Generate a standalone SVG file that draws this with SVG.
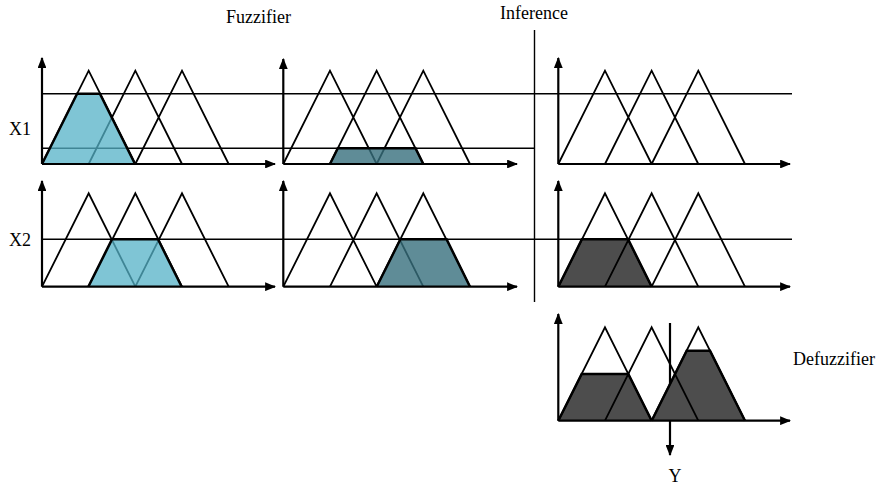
<svg xmlns="http://www.w3.org/2000/svg" width="896" height="486" viewBox="0 0 896 486">
<style>
.tri{fill:none;stroke:#000;stroke-width:1.8;stroke-linejoin:miter}
.axis{stroke:#000;stroke-width:2.2;fill:none}
.lvl{stroke:#000;stroke-width:1.4;fill:none}
.edge{fill:none;stroke:#000;stroke-width:2.5;stroke-linejoin:miter}
.lb{fill:#54b2c7;fill-opacity:0.75}
.tl{fill:#376f7d;fill-opacity:0.8}
.dg{fill:#4d4d4d}
text{font-family:"Liberation Serif","Times New Roman",serif;font-size:18px;fill:#000}
</style>
<defs>
<marker id="ah" viewBox="0 0 10 8" refX="9" refY="4" markerWidth="5" markerHeight="4" orient="auto" markerUnits="strokeWidth">
<path d="M0,0 L10,4 L0,8 Z" fill="#000"/>
</marker>
<path id="tris" class="tri" d="M0,0 L46.67,-93.33 L93.33,0 M46.67,0 L93.33,-93.33 L140,0 M93.33,0 L140,-93.33 L186.67,0"/>
</defs>

<g id="labels">
<text x="226" y="22.5">Fuzzifier</text>
<text x="500" y="18.5">Inference</text>
<text x="9" y="135">X1</text>
<text x="9" y="246">X2</text>
<text x="793" y="365">Defuzzifier</text>
<text x="675" y="482" text-anchor="middle">Y</text>
</g>

<g id="connectors">
<line class="lvl" x1="42" y1="93.7" x2="792" y2="93.7"/>
<line class="lvl" x1="42" y1="148.3" x2="534.5" y2="148.3"/>
<line class="lvl" x1="42" y1="239.3" x2="792" y2="239.3"/>
<line class="lvl" x1="534.5" y1="30" x2="534.5" y2="302" stroke-width="1.6"/>
<line class="axis" x1="670" y1="323" x2="670" y2="455" stroke-width="1.8" marker-end="url(#ah)"/>
</g>

<g id="x1-fuzzifier">
<use href="#tris" x="42" y="164"/>
<polygon class="lb" points="42,164 77.1,93.7 99.9,93.7 135,164"/>
<polyline class="edge" points="42,164 77.1,93.7 99.9,93.7 135,164"/>
<line class="axis" x1="42" y1="164" x2="42" y2="58" marker-end="url(#ah)"/>
<line class="axis" x1="42" y1="164" x2="275" y2="164" marker-end="url(#ah)"/>
</g>

<g id="x1-rule">
<use href="#tris" x="283.3" y="164"/>
<polygon class="tl" points="330,164 337.8,148.3 415.5,148.3 423.3,164"/>
<polyline class="edge" points="330,164 337.8,148.3 415.5,148.3 423.3,164"/>
<line class="axis" x1="283.3" y1="164" x2="283.3" y2="59" marker-end="url(#ah)"/>
<line class="axis" x1="283.3" y1="164" x2="517" y2="164" marker-end="url(#ah)"/>
</g>

<g id="out-1">
<use href="#tris" x="558.3" y="164"/>
<line class="axis" x1="558.3" y1="164" x2="558.3" y2="58" marker-end="url(#ah)"/>
<line class="axis" x1="558.3" y1="164" x2="790" y2="164" marker-end="url(#ah)"/>
</g>

<g id="x2-fuzzifier">
<use href="#tris" x="42" y="286.7"/>
<polygon class="lb" points="88.3,286.7 112,239.3 158,239.3 181.7,286.7"/>
<polyline class="edge" points="88.3,286.7 112,239.3 158,239.3 181.7,286.7"/>
<line class="axis" x1="42" y1="286.7" x2="42" y2="181" marker-end="url(#ah)"/>
<line class="axis" x1="42" y1="286.7" x2="275" y2="286.7" marker-end="url(#ah)"/>
</g>

<g id="x2-rule">
<use href="#tris" x="283.3" y="286.7"/>
<polygon class="tl" points="376.7,286.7 400.4,239.3 446.6,239.3 470,286.7"/>
<polyline class="edge" points="376.7,286.7 400.4,239.3 446.6,239.3 470,286.7"/>
<line class="axis" x1="283.3" y1="286.7" x2="283.3" y2="181" marker-end="url(#ah)"/>
<line class="axis" x1="283.3" y1="286.7" x2="517" y2="286.7" marker-end="url(#ah)"/>
</g>

<g id="out-2">
<polygon class="dg" points="558.3,286.7 581.9,239.3 628.1,239.3 651.7,286.7"/>
<use href="#tris" x="558.3" y="286.7"/>
<polyline class="edge" points="558.3,286.7 581.9,239.3 628.1,239.3 651.7,286.7"/>
<line class="axis" x1="558.3" y1="286.7" x2="558.3" y2="181" marker-end="url(#ah)"/>
<line class="axis" x1="558.3" y1="286.7" x2="790" y2="286.7" marker-end="url(#ah)"/>
</g>

<g id="defuzzifier">
<polygon class="dg" points="558.3,420.7 581.7,374 628.3,374 651.7,420.7"/>
<polygon class="dg" points="651.7,420.7 686.7,350.7 710,350.7 745,420.7"/>
<use href="#tris" x="558.3" y="420.7"/>
<polyline class="edge" points="558.3,420.7 581.7,374 628.3,374 651.7,420.7"/>
<polyline class="edge" points="651.7,420.7 686.7,350.7 710,350.7 745,420.7"/>
<line class="axis" x1="558.3" y1="420.7" x2="558.3" y2="314" marker-end="url(#ah)"/>
<line class="axis" x1="558.3" y1="420.7" x2="790" y2="420.7" marker-end="url(#ah)"/>
</g>
</svg>
